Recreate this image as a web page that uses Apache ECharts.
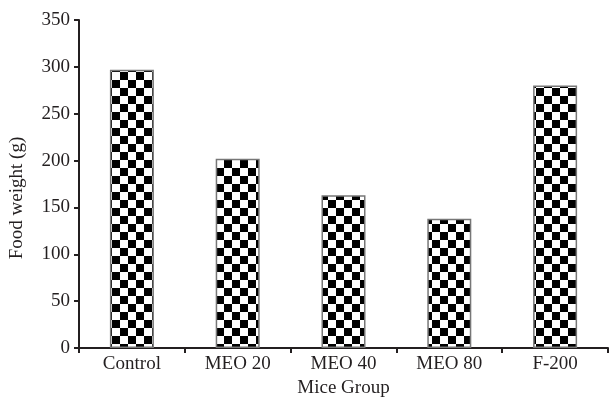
<!DOCTYPE html>
<html>
<head>
<meta charset="utf-8">
<script src="https://cdn.jsdelivr.net/npm/echarts@6/dist/echarts.min.js"></script>
<style>
html,body{margin:0;padding:0;background:#fff;}
#chart{width:613px;height:404px;}
</style>
</head>
<body>
<div id="chart"></div>
<script>
const categories = ['Control', 'MEO 20', 'MEO 40', 'MEO 80', 'F-200'];
const foodWeight = [297, 202, 163, 138, 280];
const yTicks = { min: 0, max: 350, interval: 50 };

const tile = document.createElement('canvas');
tile.width = 16; tile.height = 16;
const ctx = tile.getContext('2d');
ctx.fillStyle = '#ffffff';
ctx.fillRect(0, 0, 16, 16);
ctx.fillStyle = '#000000';
ctx.fillRect(0, 0, 8, 8);
ctx.fillRect(8, 8, 8, 8);

const font = '"Liberation Serif", "Times New Roman", serif';
const txt = '#231f20';
const chart = echarts.init(document.getElementById('chart'));
chart.setOption({
  backgroundColor: '#fff',
  animation: false,
  grid: { left: 78, right: 5, top: 20, bottom: 56 },
  xAxis: {
    type: 'category',
    data: categories,
    name: 'Mice Group',
    nameLocation: 'middle',
    nameGap: 30,
    nameTextStyle: { fontFamily: font, fontSize: 19, color: txt },
    axisLine: { lineStyle: { color: '#231f20', width: 2 } },
    axisTick: { show: true, length: 5, lineStyle: { color: '#231f20', width: 2 } },
    axisLabel: { fontFamily: font, fontSize: 19, color: txt, margin: 7 },
    splitLine: { show: false }
  },
  yAxis: {
    type: 'value',
    min: yTicks.min, max: yTicks.max, interval: yTicks.interval,
    name: 'Food weight (g)',
    nameLocation: 'middle',
    nameGap: 52,
    nameTextStyle: { fontFamily: font, fontSize: 19, color: txt, padding: [0, 28, 0, 0] },
    axisLine: { show: true, lineStyle: { color: '#231f20', width: 2 } },
    axisTick: { show: true, length: 5, lineStyle: { color: '#231f20', width: 2 } },
    axisLabel: { fontFamily: font, fontSize: 19, color: txt, margin: 9 },
    splitLine: { show: false }
  },
  series: [{
    type: 'bar',
    data: foodWeight,
    barWidth: 44,
    itemStyle: {
      color: { image: tile, repeat: 'repeat' },
      borderColor: '#777',
      borderWidth: 1.5
    }
  }]
});
</script>
</body>
</html>
